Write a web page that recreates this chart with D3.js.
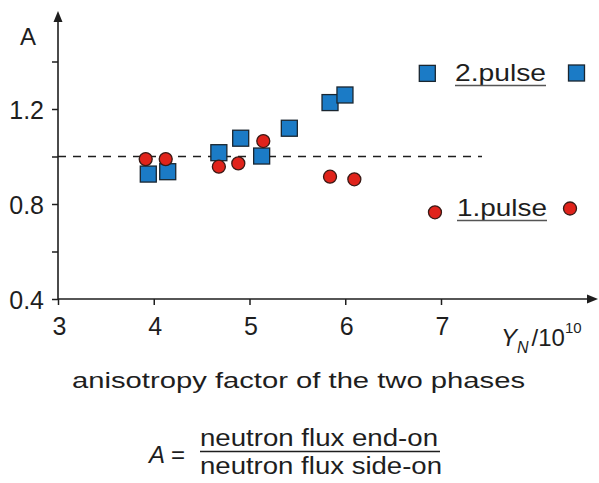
<!DOCTYPE html>
<html>
<head>
<meta charset="utf-8">
<script src="https://cdn.jsdelivr.net/npm/d3@7/dist/d3.min.js"></script>
<style>
  html, body { margin: 0; padding: 0; background: #fff; }
  svg { display: block; }
  text { font-family: "Liberation Sans", Arial, sans-serif; fill: #1e1e1e; }
</style>
</head>
<body>
<svg id="chart" width="599" height="483"></svg>
<script>
// ---- data ----
const pulse2X = [3.943, 4.146, 4.68, 4.908, 5.127, 5.416, 5.841, 5.997, 6.857];
const pulse2A = [0.926, 0.936, 1.016, 1.077, 1.002, 1.119, 1.227, 1.259, 1.350];
const pulse1X = [3.916, 4.125, 4.68, 4.883, 5.144, 5.841, 6.095, 6.937];
const pulse1A = [0.989, 0.989, 0.957, 0.971, 1.065, 0.915, 0.904, 0.765];
const xTicks = [3, 4, 5, 6, 7];
const yTicks = [0.4, 0.6, 0.8, 1.0, 1.2, 1.4];
const yTickLabels = [0.4, 0.8, 1.2];
const refLine = 1.0;
const legendLabels = ["2.pulse", "1.pulse"];
const yLabel = "A";
const caption = "anisotropy factor of the two phases";
const numerator = "neutron flux end-on";
const denominator = "neutron flux side-on";

// ---- layout ----
const svg = d3.select("#chart");
const x = d3.scaleLinear().domain([3, 7]).range([58, 441]);
const y = d3.scaleLinear().domain([0.4, 1.2]).range([299, 109]);
const ink = "#1e1e1e";
const blue = "#1b7bc6";
const red = "#e0231b";

// axes (ticks from d3 axes)
const xAxis = svg.append("g").attr("transform", `translate(0,${y(0.4)})`)
  .call(d3.axisBottom(x).tickValues(xTicks).tickSize(6).tickFormat(d3.format("d")));
xAxis.select(".domain").remove();
xAxis.selectAll(".tick line").attr("stroke", ink).attr("stroke-width", 1.5);
xAxis.selectAll(".tick text").attr("y", 18).attr("dx", 1)
  .style("font-size", "25px").style("font-family", "Liberation Sans, Arial, sans-serif").attr("fill", ink);

const yAxis = svg.append("g").attr("transform", `translate(${x(3)},0)`)
  .call(d3.axisLeft(y).tickValues(yTicks).tickSize(6)
    .tickFormat(d => yTickLabels.some(v => Math.abs(v - d) < 1e-9) ? d3.format(".1f")(d) : ""));
yAxis.select(".domain").remove();
yAxis.selectAll(".tick line").attr("stroke", ink).attr("stroke-width", 1.5);
yAxis.selectAll(".tick text").attr("x", -14).attr("dy", "0.36em")
  .style("font-size", "25px").style("font-family", "Liberation Sans, Arial, sans-serif").attr("fill", ink);

// axis lines with arrows
const x0 = x(3), y0 = y(0.4);
svg.append("line").attr("x1", x0).attr("y1", y0).attr("x2", 590).attr("y2", y0)
  .attr("stroke", ink).attr("stroke-width", 1.6);
svg.append("path").attr("d", `M598,${y0} L587,${y0 - 4.5} L587,${y0 + 4.5} Z`).attr("fill", ink);
svg.append("line").attr("x1", x0).attr("y1", y0).attr("x2", x0).attr("y2", 20)
  .attr("stroke", ink).attr("stroke-width", 1.6);
svg.append("path").attr("d", `M${x0},11 L${x0 - 4.5},22 L${x0 + 4.5},22 Z`).attr("fill", ink);

// y label
svg.append("text").attr("x", 20).attr("y", 45).attr("font-size", 24).text(yLabel);

// reference dashed line
svg.append("line").attr("x1", x0).attr("x2", 482).attr("y1", y(refLine)).attr("y2", y(refLine))
  .attr("stroke", ink).attr("stroke-width", 1.5).attr("stroke-dasharray", "8,7");

// markers
const sq = 16, cr = 6.5;
const p2 = pulse2X.map((d, i) => ({ x: d, a: pulse2A[i] }));
const p1 = pulse1X.map((d, i) => ({ x: d, a: pulse1A[i] }));
svg.append("g").selectAll("rect").data(p2).join("rect")
  .attr("x", d => x(d.x) - sq / 2).attr("y", d => y(d.a) - sq / 2)
  .attr("width", sq).attr("height", sq)
  .attr("fill", blue).attr("stroke", "#1a2630").attr("stroke-width", 1.3);
svg.append("g").selectAll("circle").data(p1).join("circle")
  .attr("cx", d => x(d.x)).attr("cy", d => y(d.a)).attr("r", cr)
  .attr("fill", red).attr("stroke", "#3a1a16").attr("stroke-width", 1.3);

// legend
function legendText(label, xl, yb, w) {
  svg.append("text").attr("x", xl).attr("y", yb).attr("font-size", 24)
    .attr("textLength", w).attr("lengthAdjust", "spacingAndGlyphs").text(label);
  svg.append("line").attr("x1", xl).attr("x2", xl + w).attr("y1", yb + 4.5).attr("y2", yb + 4.5)
    .attr("stroke", "#555").attr("stroke-width", 1.5);
}
legendText(legendLabels[0], 455, 81, 91);
svg.append("rect").attr("x", 576.5 - sq / 2).attr("y", 73 - sq / 2).attr("width", sq).attr("height", sq)
  .attr("fill", blue).attr("stroke", "#1a2630").attr("stroke-width", 1.3);
legendText(legendLabels[1], 457, 216, 90);
svg.append("circle").attr("cx", 570).attr("cy", 208.5).attr("r", cr)
  .attr("fill", red).attr("stroke", "#3a1a16").attr("stroke-width", 1.3);

// x axis title  Y_N / 10^10
const xt = svg.append("text").attr("x", 501).attr("y", 346).attr("font-size", 24);
xt.append("tspan").attr("font-style", "italic").text("Y");
xt.append("tspan").attr("font-style", "italic").attr("font-size", 16).attr("dy", 7).text("N");
xt.append("tspan").attr("dy", -7).attr("dx", 3).text("/10");
xt.append("tspan").attr("font-size", 15).attr("dy", -13).text("10");

// caption
svg.append("text").attr("x", 72).attr("y", 388).attr("font-size", 22)
  .attr("textLength", 453).attr("lengthAdjust", "spacingAndGlyphs").text(caption);

// formula
svg.append("text").attr("x", 149).attr("y", 463).attr("font-size", 24).attr("font-style", "italic").text("A");
svg.append("text").attr("x", 171).attr("y", 463).attr("font-size", 24).text("=");
svg.append("text").attr("x", 200).attr("y", 446).attr("font-size", 23)
  .attr("textLength", 238).attr("lengthAdjust", "spacingAndGlyphs").text(numerator);
svg.append("line").attr("x1", 200).attr("x2", 440).attr("y1", 451.5).attr("y2", 451.5)
  .attr("stroke", ink).attr("stroke-width", 1.5);
svg.append("text").attr("x", 200).attr("y", 474).attr("font-size", 23)
  .attr("textLength", 242).attr("lengthAdjust", "spacingAndGlyphs").text(denominator);
</script>
</body>
</html>
